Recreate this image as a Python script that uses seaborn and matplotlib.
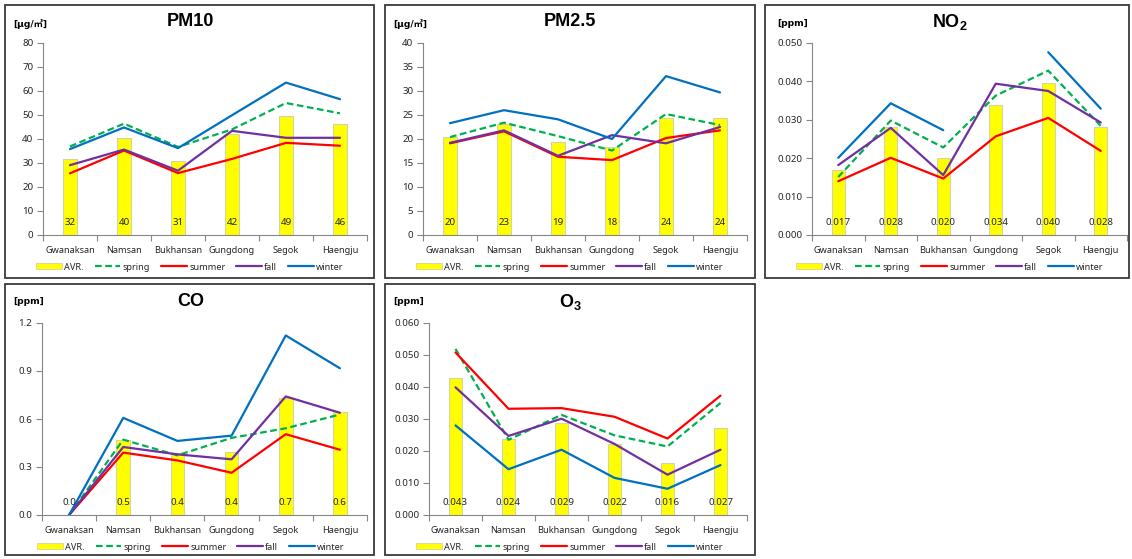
import numpy as np
import pandas as pd
import seaborn as sns
import matplotlib
matplotlib.use('Agg')
import matplotlib.pyplot as plt
from matplotlib.patches import Rectangle, Patch
from matplotlib.lines import Line2D
from matplotlib.ticker import FixedLocator, MultipleLocator

sns.set_style('white')
plt.rcParams['font.family'] = ['Noto Sans', 'Noto Sans CJK KR', 'DejaVu Sans']
plt.rcParams['mathtext.fontset'] = 'custom'
plt.rcParams['mathtext.rm'] = 'Liberation Sans'
plt.rcParams['mathtext.bf'] = 'Liberation Sans:bold'

sites = ['Gwanaksan', 'Namsan', 'Bukhansan', 'Gungdong', 'Segok', 'Haengju']
seasons = ['spring', 'summer', 'fall', 'winter']

# PM10 [ug/m3]
pm10_avr = [31.8, 40.4, 31.0, 42.0, 49.4, 46.1]
pm10_spring = [36.9, 46.4, 36.7, 44.0, 55.0, 50.7]
pm10_summer = [25.7, 35.2, 25.8, 31.7, 38.4, 37.2]
pm10_fall = [29.1, 35.6, 26.8, 43.4, 40.5, 40.5]
pm10_winter = [35.8, 44.8, 36.2, 49.9, 63.5, 56.6]

# PM2.5 [ug/m3]
pm25_avr = [20.4, 23.2, 19.3, 18.4, 24.4, 24.3]
pm25_spring = [20.4, 23.4, 20.6, 17.6, 25.2, 22.9]
pm25_summer = [19.1, 21.6, 16.3, 15.6, 20.2, 21.8]
pm25_fall = [19.2, 21.8, 16.5, 20.8, 19.1, 22.5]
pm25_winter = [23.3, 26.0, 24.1, 20.0, 33.1, 29.7]

# NO2 [ppm]
no2_avr = [0.0170, 0.0281, 0.0201, 0.0338, 0.0396, 0.0281]
no2_spring = [0.0151, 0.0298, 0.0228, 0.0363, 0.0428, 0.0284]
no2_summer = [0.0140, 0.0201, 0.0147, 0.0257, 0.0305, 0.0219]
no2_fall = [0.0182, 0.0279, 0.0156, 0.0394, 0.0375, 0.0293]
no2_winter = [0.0201, 0.0343, 0.0273, np.nan, 0.0476, 0.0329]

# CO [ppm]
co_avr = [0.0, 0.471, 0.387, 0.396, 0.729, 0.645]
co_spring = [0.0, 0.471, 0.373, 0.482, 0.542, 0.628]
co_summer = [0.0, 0.390, 0.341, 0.264, 0.505, 0.408]
co_fall = [0.0, 0.425, 0.379, 0.348, 0.741, 0.639]
co_winter = [0.0, 0.607, 0.463, 0.496, 1.122, 0.917]

# O3 [ppm]
o3_avr = [0.0427, 0.0239, 0.0289, 0.0223, 0.0163, 0.0271]
o3_spring = [0.0519, 0.0235, 0.0313, 0.0249, 0.0214, 0.0350]
o3_summer = [0.0508, 0.0332, 0.0334, 0.0307, 0.0239, 0.0373]
o3_fall = [0.0399, 0.0247, 0.0301, 0.0222, 0.0126, 0.0204]
o3_winter = [0.0280, 0.0143, 0.0204, 0.0116, 0.0082, 0.0156]

colors = {'spring': '#00B050', 'summer': '#FF0000', 'fall': '#7030A0', 'winter': '#0070C0'}
styles = {'spring': (0, (3, 1.6)), 'summer': '-', 'fall': '-', 'winter': '-'}
gray = '#868686'
txt = '#262626'

W, H = 1132, 559
fig = plt.figure(figsize=(W / 100, H / 100), dpi=100)


def fx(px):
    return px / W


def fy(py):
    return 1 - py / H


# panel frames
for (x0, y0, x1, y1) in [(5, 5, 374, 278), (385, 5, 755, 278), (765, 5, 1129, 278),
                         (5, 284, 374, 555), (385, 284, 755, 555)]:
    fig.patches.append(Rectangle((fx(x0), fy(y1)), fx(x1 - x0), (y1 - y0) / H,
                                 transform=fig.transFigure, fill=False,
                                 edgecolor='#3a3a3a', lw=1.3))


def panel(box, title, unit, avr, spring, summer, fall, winter, ymax, ystep, fmt,
          title_x, title_y, unit_x, unit_y):
    left, top, right, bottom = box
    ax = fig.add_axes([fx(left), fy(bottom), fx(right - left), (bottom - top) / H])
    df = pd.DataFrame({'site': sites, 'AVR.': avr})
    sns.barplot(data=df, x='site', y='AVR.', color='#FFFF00', width=0.25,
                edgecolor='#d4d4a8', linewidth=0.8, saturation=1, ax=ax, zorder=1)
    series = {'spring': spring, 'summer': summer, 'fall': fall, 'winter': winter}
    for s in seasons:
        vals = np.asarray(series[s], dtype=float)
        # break the line where a value is missing
        idx = np.arange(len(sites))
        runs = np.split(idx, np.where(np.isnan(vals))[0])
        for r in runs:
            r = r[~np.isnan(vals[r])]
            if len(r) < 2:
                continue
            sns.lineplot(x=[sites[i] for i in r], y=vals[r], color=colors[s],
                         linestyle=styles[s], lw=1.6, sort=False, ax=ax, zorder=3)
    for i, v in enumerate(avr):
        ax.text(i, 0.065, fmt % v, ha='center', va='center', fontsize=7,
                color=txt, transform=ax.get_xaxis_transform(), zorder=4)
    ax.set_xlim(-0.5, len(sites) - 0.5)
    ax.set_ylim(0, ymax)
    ax.yaxis.set_major_locator(MultipleLocator(ystep))
    ax.yaxis.set_major_formatter(plt.FuncFormatter(lambda v, p: fmt % v))
    ax.xaxis.set_minor_locator(FixedLocator(np.arange(-0.5, len(sites), 1.0)))
    ax.tick_params(axis='x', which='major', length=0, pad=8, labelsize=6.6, colors=txt)
    ax.tick_params(axis='x', which='minor', length=4, width=0.8, color=gray, direction='out', bottom=True)
    ax.tick_params(axis='y', which='major', length=4, width=0.8, color=gray, direction='out',
                   left=True, pad=3, labelsize=7, labelcolor=txt)
    ax.set_xlabel('')
    ax.set_ylabel('')
    for sp in ['top', 'right']:
        ax.spines[sp].set_visible(False)
    for sp in ['left', 'bottom']:
        ax.spines[sp].set_color(gray)
        ax.spines[sp].set_linewidth(0.8)
    fig.text(fx(title_x), fy(title_y), title, ha='center', va='center', color='black',
             fontsize=13, fontweight='bold', family='Liberation Sans')
    fig.text(fx(unit_x), fy(unit_y), unit, ha='left', va='center', color='black',
             fontsize=6.6, fontweight='bold', family=['DejaVu Sans', 'Noto Sans CJK KR'])
    handles = [Patch(facecolor='#FFFF00', edgecolor='#d4d4a8', lw=0.6)]
    handles += [Line2D([0], [0], color=colors[s], linestyle=styles[s], lw=1.6) for s in seasons]
    cx = (title_x - left) / (right - left)
    cy = -32 / (bottom - top)
    ax.legend(handles, ['AVR.'] + seasons, loc='center', bbox_to_anchor=(cx, cy),
              ncol=5, frameon=False, fontsize=6.6, handlelength=2.8, handleheight=0.6,
              handletextpad=0.25, columnspacing=1.2, borderaxespad=0,
              labelcolor=txt)
    return ax


panel((43, 43, 367, 235), 'PM10', '[\u03bcg/\u33a5]', pm10_avr, pm10_spring, pm10_summer,
      pm10_fall, pm10_winter, 80, 10, '%.0f', 190, 22, 13, 24)
panel((423, 43, 747, 235), 'PM2.5', '[\u03bcg/\u33a5]', pm25_avr, pm25_spring, pm25_summer,
      pm25_fall, pm25_winter, 40, 5, '%.0f', 570, 22, 393, 24)
panel((812, 43, 1127, 235), r'$\mathbf{NO_2}$', '[ppm]', no2_avr, no2_spring, no2_summer,
      no2_fall, no2_winter, 0.05, 0.01, '%.3f', 950, 22, 777, 24)
panel((42, 323, 367, 515), 'CO', '[ppm]', co_avr, co_spring, co_summer,
      co_fall, co_winter, 1.2, 0.3, '%.1f', 191, 302, 13, 301)
panel((429, 323, 747, 515), r'$\mathbf{O_3}$', '[ppm]', o3_avr, o3_spring, o3_summer,
      o3_fall, o3_winter, 0.06, 0.01, '%.3f', 570, 302, 393, 301)

fig.savefig('out.png', dpi=100)
